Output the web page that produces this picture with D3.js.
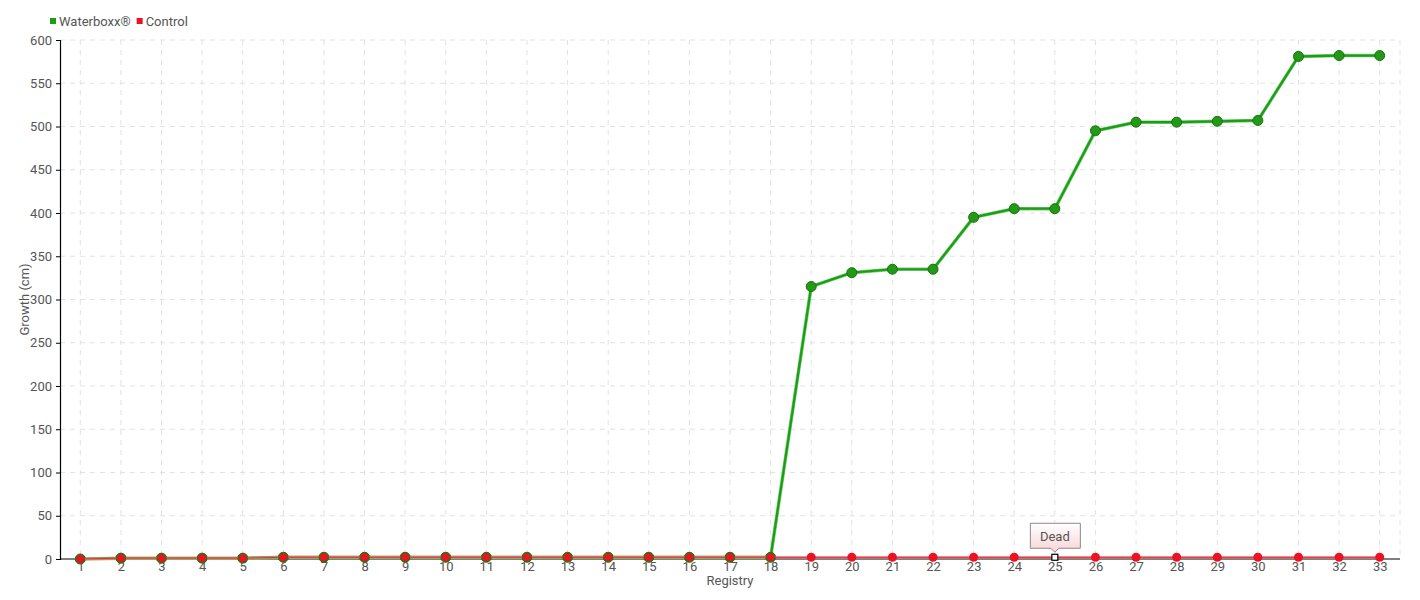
<!DOCTYPE html>
<html>
<head>
<meta charset="utf-8">
<script src="https://cdnjs.cloudflare.com/ajax/libs/d3/7.8.5/d3.min.js"></script>
<style>
  body { margin: 0; background: #fff; }
  text { font-family: Roboto, "Noto Sans", sans-serif; fill: #555; }
</style>
</head>
<body>
<div id="chart"></div>
<script>
// registry numbers
var registry = d3.range(1, 34);
// growth in cm
var waterboxx = [0, 1, 1, 1, 1, 2, 2, 2, 2, 2, 2, 2, 2, 2, 2, 2, 2, 2,
  315, 331, 335, 335, 395, 405, 405, 495, 505, 505, 506, 507, 581, 582, 582];
var control = [0, 1, 1, 1, 1, 2, 2, 2, 2, 2, 2, 2, 2, 2, 2, 2, 2, 2,
  2, 2, 2, 2, 2, 2, 2, 2, 2, 2, 2, 2, 2, 2, 2];
var yTicks = d3.range(0, 601, 50);
var deadAt = 25; // control plant died here

var width = 1420, height = 600;
var margin = {top: 40, right: 20, bottom: 41, left: 60};

var svg = d3.select("#chart").append("svg")
  .attr("width", width)
  .attr("height", height);

var defs = svg.append("defs");
var grad = defs.append("linearGradient").attr("id", "tipfill")
  .attr("x1", 0).attr("y1", 0).attr("x2", 0).attr("y2", 1);
grad.append("stop").attr("offset", "0%").attr("stop-color", "#ffffff");
grad.append("stop").attr("offset", "100%").attr("stop-color", "#f9d4d4");

var x = d3.scalePoint()
  .domain(registry)
  .range([margin.left, width - margin.right])
  .padding(0.5);

var y = d3.scaleLinear()
  .domain([0, 600])
  .range([height - margin.bottom, margin.top]);

// grid
var grid = svg.append("g").attr("class", "grid");
grid.selectAll("line.h").data(yTicks.slice(1)).enter().append("line")
  .attr("x1", margin.left).attr("x2", width - margin.right)
  .attr("y1", d => y(d)).attr("y2", d => y(d))
  .attr("stroke", "#e2e2e2").attr("stroke-dasharray", "5,5");
grid.selectAll("line.v").data(registry).enter().append("line")
  .attr("x1", d => x(d)).attr("x2", d => x(d))
  .attr("y1", margin.top).attr("y2", y(0))
  .attr("stroke", "#e2e2e2").attr("stroke-dasharray", "5,5");
grid.append("line")
  .attr("x1", width - margin.right).attr("x2", width - margin.right)
  .attr("y1", margin.top).attr("y2", y(0))
  .attr("stroke", "#e2e2e2").attr("stroke-dasharray", "5,5");

// axes
var yAxis = svg.append("g")
  .attr("transform", "translate(" + margin.left + ",0)")
  .call(d3.axisLeft(y).tickValues(yTicks).tickSize(4).tickPadding(4));
var xAxis = svg.append("g")
  .attr("transform", "translate(0," + y(0) + ")")
  .call(d3.axisBottom(x).tickSize(0).tickPadding(3));
[yAxis, xAxis].forEach(function(a) {
  a.select(".domain").attr("stroke", "#000").attr("stroke-width", 1.2);
  a.selectAll(".tick line").attr("stroke", "#000");
  a.selectAll("text").style("font-size", "13px").attr("fill", "#555")
    .style("font-family", "Roboto, sans-serif");
});
xAxis.select(".domain").attr("d", "M" + margin.left + ",0H" + (width - margin.right));

svg.append("text")
  .attr("x", (margin.left + width - margin.right) / 2)
  .attr("y", 585)
  .attr("text-anchor", "middle")
  .style("font-size", "13px")
  .text("Registry");

svg.append("text")
  .attr("transform", "translate(29," + (y(300)) + ") rotate(-90)")
  .attr("text-anchor", "middle")
  .style("font-size", "13px")
  .text("Growth (cm)");

var line = d3.line()
  .x((d, i) => x(registry[i]))
  .y(d => y(d));

// Waterboxx series
svg.append("path").datum(waterboxx)
  .attr("d", line).attr("fill", "none")
  .attr("stroke", "#77cc77").attr("stroke-width", 3.5);
svg.append("path").datum(waterboxx)
  .attr("d", line).attr("fill", "none")
  .attr("stroke", "#1a9e12").attr("stroke-width", 2.2);
svg.selectAll("circle.wb").data(waterboxx).enter().append("circle")
  .attr("class", "wb")
  .attr("cx", (d, i) => x(registry[i]))
  .attr("cy", d => y(d))
  .attr("r", 5)
  .attr("fill", "#229a16")
  .attr("stroke", "#17700f").attr("stroke-width", 1);

// Control series
svg.append("path").datum(control)
  .attr("d", line).attr("fill", "none")
  .attr("stroke", "#ff8080").attr("stroke-width", 2);
svg.append("path").datum(control)
  .attr("d", line).attr("fill", "none")
  .attr("stroke", "#e5101c").attr("stroke-width", 0.8);
svg.selectAll("circle.ct").data(control).enter().append("circle")
  .attr("class", "ct")
  .attr("cx", (d, i) => x(registry[i]))
  .attr("cy", d => y(d))
  .attr("r", 4.5)
  .attr("fill", "#ec1222")
  .attr("stroke", (d, i) => i < 18 ? "#1a7a12" : "none")
  .attr("stroke-width", 1)
  .attr("display", (d, i) => registry[i] === deadAt ? "none" : null);

// dead marker + tooltip
var dx = x(deadAt), dy = y(control[registry.indexOf(deadAt)]);
svg.append("rect")
  .attr("x", dx - 3).attr("y", dy - 3).attr("width", 6).attr("height", 6)
  .attr("fill", "#fff").attr("stroke", "#000").attr("stroke-width", 1.2);
var tip = svg.append("g").attr("transform", "translate(" + dx + "," + (dy - 8) + ")");
tip.append("path")
  .attr("d", "M-24.5,-26H25.5V-1H4L0,3L-4,-1H-24.5Z")
  .attr("fill", "url(#tipfill)")
  .attr("stroke", "#8a8a8a").attr("stroke-width", 1);
tip.append("text")
  .attr("x", 0).attr("y", -8.5)
  .attr("text-anchor", "middle")
  .style("font-size", "13px")
  .text("Dead");

// legend
var legend = svg.append("g").attr("transform", "translate(50,22)");
var items = [{name: "Waterboxx®", color: "#1a9e12"}, {name: "Control", color: "#ec1222"}];
var lx = 0;
items.forEach(function(it) {
  legend.append("rect").attr("x", lx).attr("y", -4).attr("width", 6).attr("height", 6)
    .attr("fill", it.color);
  var t = legend.append("text").attr("x", lx + 9).attr("y", 4)
    .style("font-size", "13px").text(it.name);
  lx += 9 + t.node().getComputedTextLength() + 6;
});
</script>
</body>
</html>
